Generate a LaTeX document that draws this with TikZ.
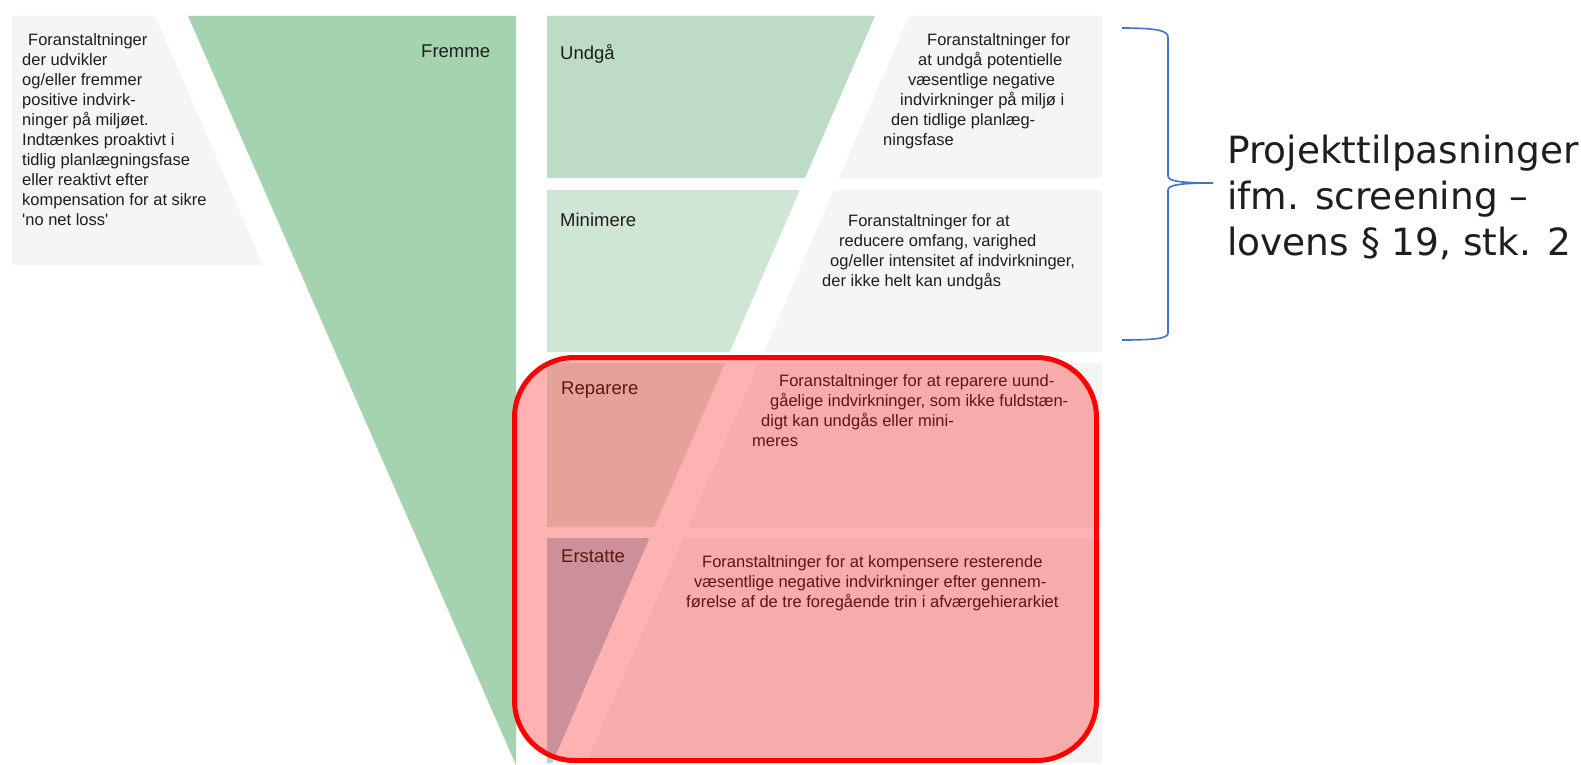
\documentclass[tikz,border=0pt]{standalone}
\usepackage{fontspec}
\setmainfont{Liberation Sans}
\newfontfamily\bracefont{DejaVu Sans}

\definecolor{fremmegreen}{HTML}{A6D3AF}
\definecolor{undgaagreen}{HTML}{BDDCC5}
\definecolor{minigreen}{HTML}{CFE6D5}
\definecolor{repgreen}{HTML}{DAE9DD}
\definecolor{erstblue}{HTML}{B6CFDD}
\definecolor{rowgray}{HTML}{F5F5F5}
\definecolor{txt}{HTML}{1E1E1E}
\definecolor{braceblue}{HTML}{4472C4}

\tikzset{
  body/.style={inner sep=0pt, anchor=north west, align=left, text=txt,
    font=\fontsize{16.5}{20}\selectfont},
  steplabel/.style={inner sep=0pt, anchor=base west, text=txt,
    font=\fontsize{18.5}{22}\selectfont},
}

\begin{document}
\begin{tikzpicture}[x=1pt,y=-1pt]
\fill[white] (0,0) rectangle (1581,765);
\useasboundingbox (0,0) rectangle (1581,765);

% left side: Fremme
\fill[rowgray] (12,16) -- (155,16) -- (263,265) -- (12,265) -- cycle;
\fill[fremmegreen] (188,16) -- (516,16) -- (516,765) -- cycle;

% right side: the four rows
\foreach \ya/\yb/\col in {16/178/undgaagreen, 190/352/minigreen, 363/527/repgreen, 538/763/erstblue}{
  \fill[\col] (547,\ya) -- ({875-0.432*(\ya-16)},\ya) -- ({875-0.432*(\yb-16)},\yb) -- (547,\yb) -- cycle;
  \fill[rowgray] ({909-0.432*(\ya-16)},\ya) -- (1102,\ya) -- (1102,\yb) -- ({909-0.432*(\yb-16)},\yb) -- cycle;
}

\node[body] (fremmetxt) at (22,33) {\hspace*{6pt}Foranstaltninger\\ der udvikler\\ og/eller fremmer\\ positive indvirk-\\ ninger på miljøet.\\ Indtænkes proaktivt i\\ tidlig planlægningsfase\\ eller reaktivt efter\\ kompensation for at sikre\\ \textquotesingle no net loss\textquotesingle};
\node[steplabel] (fremme) at (421,58) {Fremme};

\node[steplabel] (undgaa) at (560,60) {Undgå};
\node[steplabel] (minimere) at (560,226) {Minimere};
\node[steplabel] (reparere) at (561,394) {Reparere};
\node[steplabel] (erstatte) at (561,562) {Erstatte};

\node[body] (undgaatxt) at (883,33) {\hspace*{44pt}Foranstaltninger for\\ \hspace*{35pt}at undgå potentielle\\ \hspace*{25pt}væsentlige negative\\ \hspace*{17pt}indvirkninger på miljø i\\ \hspace*{8pt}den tidlige planlæg-\\ ningsfase};
\node[body] (minitxt) at (822,214) {\hspace*{26pt}Foranstaltninger for at\\ \hspace*{17pt}reducere omfang, varighed\\ \hspace*{8pt}og/eller intensitet af indvirkninger,\\ der ikke helt kan undgås};
\node[body] (reptxt) at (752,374) {\hspace*{27pt}Foranstaltninger for at reparere uund-\\ \hspace*{18pt}gåelige indvirkninger, som ikke fuldstæn-\\ \hspace*{9pt}digt kan undgås eller mini-\\ meres};
\node[body] (ersttxt) at (686,555) {\hspace*{16pt}Foranstaltninger for at kompensere resterende\\ \hspace*{8pt}væsentlige negative indvirkninger efter gennem-\\ førelse af de tre foregående trin i afværgehierarkiet};

% red frame round Reparere and Erstatte
\fill[red, opacity=.3, rounded corners=60pt] (514.5,357.5) rectangle (1096.5,760.5);
\draw[red, line width=5pt, rounded corners=60pt] (514.5,357.5) rectangle (1096.5,760.5);

% brace and note
\coordinate (tip) at (1213,183);
\draw[braceblue, line width=1.6pt] (1122,28) .. controls (1158,28) and (1168,31) .. (1168,37) -- (1168,176)
  .. controls (1168,181) and (1180,183) .. (tip)
  .. controls (1180,183) and (1168,185) .. (1168,190) -- (1168,333)
  .. controls (1168,338) and (1158,340) .. (1122,340);
\node[anchor=north west, inner sep=0pt, align=left, text=txt, font=\bracefont\fontsize{37.5}{46}\selectfont] (projekt) at (1227,135) {Projekttilpasninger\\ ifm. screening –\\ lovens § 19, stk. 2};
\end{tikzpicture}
\end{document}
